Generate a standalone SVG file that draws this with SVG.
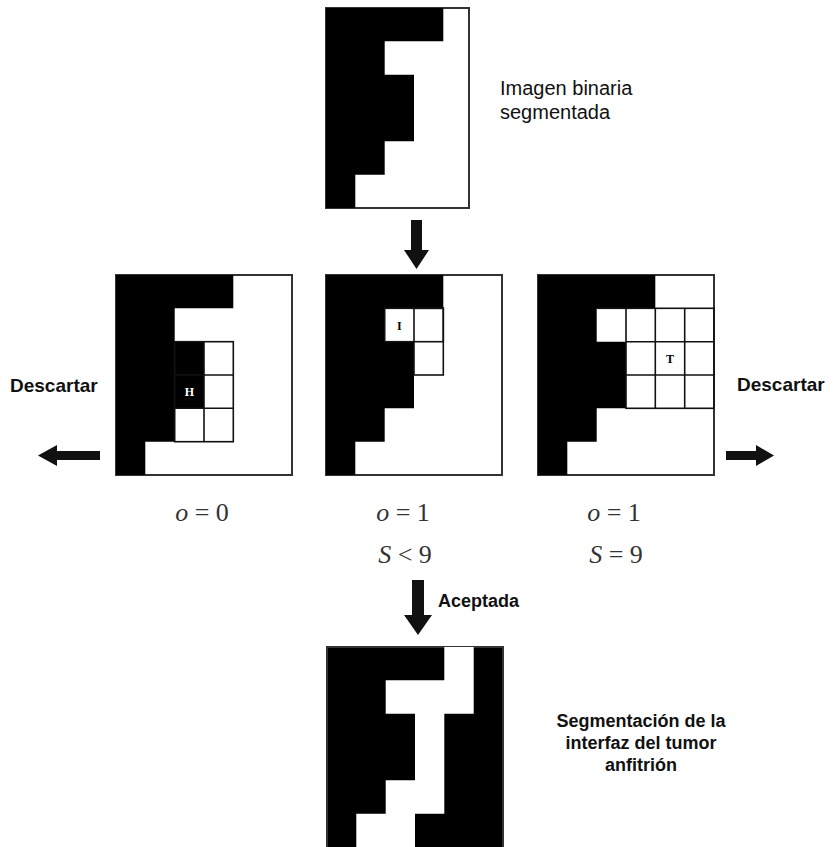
<svg xmlns="http://www.w3.org/2000/svg" width="835" height="847" viewBox="0 0 835 847">
<style>
.frame{fill:#fff;stroke:#333;stroke-width:2}
.blk{fill:#000}
.wht{fill:#fff}
.grid{fill:none;stroke:#111;stroke-width:1.6}
.cell{font-family:"Liberation Serif","Times New Roman",serif;font-weight:bold;font-size:12px;text-anchor:middle}
.sans{font-family:"Liberation Sans",Arial,sans-serif;font-size:20px;fill:#111}
.bold{font-family:"Liberation Sans",Arial,sans-serif;font-size:18px;font-weight:bold;fill:#111}
.desc{font-family:"Liberation Sans",Arial,sans-serif;font-size:19px;font-weight:bold;fill:#111}
.math{font-family:"Liberation Serif","Times New Roman",serif;font-size:26px;fill:#333;text-anchor:middle}
.arrow{fill:#111}
</style>
<defs>
<polygon id="shape" points="0,0 117.3,0 117.3,33.3 58.7,33.3 58.7,66.7 88,66.7 88,133.3 58.7,133.3 58.7,166.7 29.3,166.7 29.3,200 0,200"/>
</defs>
<rect x="0" y="0" width="835" height="847" fill="#fff"/>

<g id="imagen-binaria" transform="translate(326,8)">
<rect class="frame" x="0" y="0" width="143" height="200"/>
<use href="#shape" class="blk"/>
</g>
<g id="label-imagen">
<text class="sans" x="500" y="95">Imagen binaria</text>
<text class="sans" x="500" y="119">segmentada</text>
</g>

<g id="caso-H" transform="translate(116,275)">
<rect class="frame" x="0" y="0" width="176" height="200"/>
<use href="#shape" class="blk"/>
<rect class="grid" x="58.7" y="66.7" width="58.6" height="100"/>
<line class="grid" x1="88" y1="66.7" x2="88" y2="166.7"/>
<line class="grid" x1="58.7" y1="100" x2="117.3" y2="100"/>
<line class="grid" x1="58.7" y1="133.3" x2="117.3" y2="133.3"/>
<text class="cell" x="73.3" y="121" fill="#fff">H</text>
</g>

<g id="caso-I" transform="translate(326,275)">
<rect class="frame" x="0" y="0" width="176" height="200"/>
<use href="#shape" class="blk"/>
<rect class="grid" x="58.7" y="33.3" width="58.6" height="33.4"/>
<rect class="grid" x="88" y="33.3" width="29.3" height="66.7"/>
<text class="cell" x="73.3" y="54.5" fill="#000">I</text>
</g>

<g id="caso-T" transform="translate(538,275)">
<rect class="frame" x="0" y="0" width="176" height="200"/>
<use href="#shape" class="blk"/>
<rect class="grid" x="88" y="33.3" width="88" height="100"/>
<line class="grid" x1="117.3" y1="33.3" x2="117.3" y2="133.3"/>
<line class="grid" x1="146.7" y1="33.3" x2="146.7" y2="133.3"/>
<line class="grid" x1="88" y1="66.7" x2="176" y2="66.7"/>
<line class="grid" x1="88" y1="100" x2="176" y2="100"/>
<line class="grid" x1="58.7" y1="33.3" x2="88" y2="33.3"/>
<text class="cell" x="132" y="87.5" fill="#000">T</text>
</g>

<g id="descartar-izq"><text class="desc" x="10" y="392">Descartar</text></g>
<g id="descartar-der"><text class="desc" x="737" y="391">Descartar</text></g>

<g id="cond-H"><text class="math" x="202" y="521"><tspan font-style="italic">o</tspan> = 0</text></g>
<g id="cond-I">
<text class="math" x="403" y="521"><tspan font-style="italic">o</tspan> = 1</text>
<text class="math" x="405" y="563"><tspan font-style="italic">S</tspan> &lt; 9</text>
</g>
<g id="cond-T">
<text class="math" x="614" y="521"><tspan font-style="italic">o</tspan> = 1</text>
<text class="math" x="616" y="563"><tspan font-style="italic">S</tspan> = 9</text>
</g>

<g id="aceptada"><text class="bold" x="438" y="607">Aceptada</text></g>

<g id="segmentacion" transform="translate(327,647)">
<rect x="0" y="0" width="176" height="202" fill="#000" stroke="#333" stroke-width="2"/>
<polygon class="wht" points="117.3,0 146.7,0 146.7,66.7 117.3,66.7 117.3,166.7 88,166.7 88,200 29.3,200 29.3,166.7 58.7,166.7 58.7,133.3 88,133.3 88,66.7 58.7,66.7 58.7,33.3 117.3,33.3"/>
</g>
<g id="label-segmentacion">
<text class="bold" x="641" y="727" text-anchor="middle">Segmentación de la</text>
<text class="bold" x="641" y="749" text-anchor="middle">interfaz del tumor</text>
<text class="bold" x="641" y="771" text-anchor="middle">anfitrión</text>
</g>

<g id="connectors">
<g id="arrow-down-1" class="arrow">
<rect x="411" y="220" width="11" height="32"/>
<polygon points="404,250 429,250 416.5,269"/>
</g>
<g id="arrow-aceptada" class="arrow">
<rect x="412" y="580" width="12" height="37"/>
<polygon points="404,615 432,615 418,635"/>
</g>
<g id="arrow-left" class="arrow">
<rect x="54" y="451" width="46" height="9"/>
<polygon points="38,455.5 57,445 57,466"/>
</g>
<g id="arrow-right" class="arrow">
<rect x="726" y="451" width="34" height="9"/>
<polygon points="774,455.5 756,445 756,466"/>
</g>
</g>
</svg>
